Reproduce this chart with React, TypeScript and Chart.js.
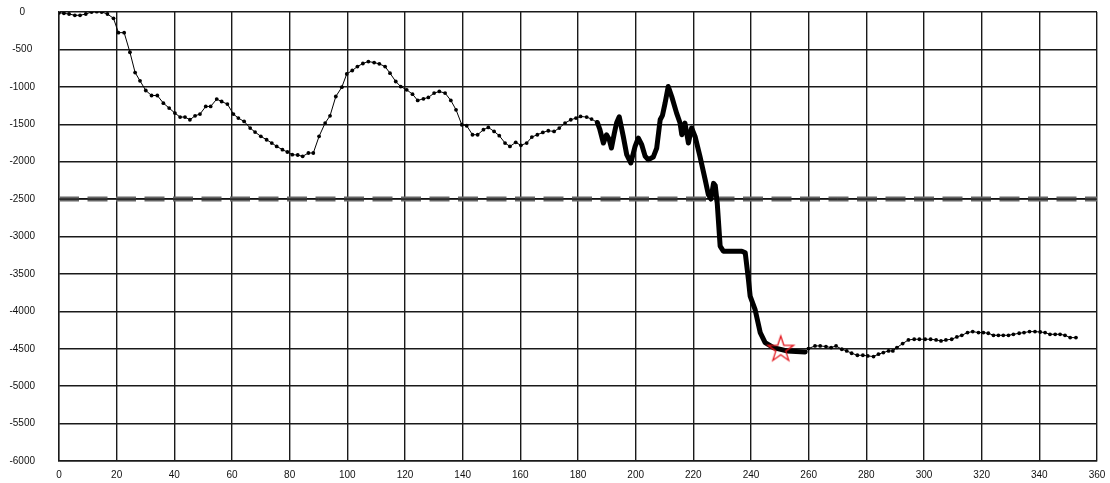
import React, { useEffect, useRef } from "react";
import { Chart, registerables } from "chart.js";

Chart.register(...registerables);

// thin section (left)
const xA = [0, 1.7, 3.5, 5.5, 7.3, 9.3, 11.3, 13.1, 14.8, 16.8, 18.9, 20.6, 22.6, 24.6, 26.4, 28.1, 30.1, 32.1, 34.1, 36.2, 38.2, 40.2, 42.0, 43.7, 45.4, 47.2, 48.9, 50.9, 52.6, 54.7, 56.4, 58.4, 60.5, 62.2, 64.2, 66.3, 68.0, 70.0, 72.0, 73.8, 75.5, 77.5, 79.2, 80.9, 82.8, 84.5, 86.5, 88.2, 90.2, 92.3, 94.0, 96.0, 98.1, 99.8, 101.7, 103.5, 105.4, 107.3, 109.3, 111.1, 113.1, 114.8, 116.8, 118.5, 120.6, 122.6, 124.4, 126.4, 128.1, 130.1, 131.9, 133.9, 135.9, 137.7, 139.7, 141.4, 143.4, 145.2, 147.2, 148.9, 150.9, 152.7, 154.7, 156.4, 158.4, 160.2, 162.2, 164.0, 165.9, 167.8, 169.7, 171.7, 173.5, 175.5, 177.5, 179.3, 180.9, 183.0, 184.7, 186.7];
const yA = [-10, -18, -27, -44, -44, -27, 0, 4, 0, -27, -84, -276, -276, -538, -809, -920, -1049, -1116, -1116, -1218, -1284, -1351, -1404, -1404, -1440, -1387, -1364, -1262, -1262, -1164, -1196, -1231, -1364, -1418, -1462, -1551, -1604, -1662, -1707, -1751, -1796, -1840, -1871, -1907, -1911, -1929, -1884, -1884, -1662, -1484, -1387, -1129, -1004, -827, -782, -729, -688, -662, -676, -693, -729, -818, -929, -996, -1040, -1098, -1182, -1160, -1142, -1084, -1062, -1084, -1182, -1307, -1507, -1520, -1640, -1640, -1573, -1542, -1596, -1653, -1751, -1796, -1742, -1782, -1751, -1671, -1640, -1609, -1587, -1596, -1551, -1484, -1440, -1418, -1396, -1404, -1431, -1476];

// thick dense section (middle)
const xB = [186.7, 187.5, 188.8, 189.9, 190.8, 191.6, 192.6, 193.4, 194.3, 195.7, 196.9, 198.3, 199.8, 200.9, 202.1, 203.3, 204.4, 206.1, 207.3, 208.5, 209.3, 210.2, 211.3, 212.5, 214.2, 215.4, 216.0, 217.1, 218.3, 219.4, 220.6, 222.3, 224.1, 225.2, 226.1, 227.0, 227.6, 228.3, 229.3, 230.4, 236.8, 238.0, 239.1, 239.7, 241.4, 243.2, 244.9, 247.8, 252.4, 258.8];
const yB = [-1476, -1560, -1751, -1640, -1700, -1818, -1620, -1480, -1400, -1662, -1907, -2018, -1796, -1684, -1773, -1929, -1973, -1938, -1818, -1440, -1380, -1218, -996, -1129, -1351, -1484, -1640, -1484, -1751, -1551, -1662, -1929, -2240, -2440, -2500, -2290, -2320, -2560, -3129, -3196, -3196, -3218, -3573, -3796, -3973, -4284, -4418, -4484, -4529, -4542];

// thin section (right)
const xC = [258.8, 259.9, 262.2, 264.0, 266.0, 267.8, 269.5, 271.5, 273.2, 274.9, 276.9, 278.8, 280.5, 282.5, 284.2, 285.9, 287.7, 289.2, 290.6, 292.6, 294.6, 296.6, 298.4, 300.4, 302.3, 304.2, 305.9, 307.6, 309.6, 311.4, 313.1, 315.1, 316.9, 318.9, 320.6, 322.3, 324.1, 325.8, 327.5, 329.3, 331.0, 333.0, 334.7, 336.6, 338.5, 340.3, 342.0, 343.7, 345.5, 347.2, 348.9, 350.7, 352.7];
const yC = [-4542, -4498, -4462, -4462, -4471, -4484, -4462, -4507, -4529, -4560, -4587, -4587, -4596, -4604, -4573, -4551, -4529, -4529, -4484, -4431, -4382, -4373, -4373, -4373, -4373, -4382, -4396, -4382, -4373, -4342, -4320, -4284, -4271, -4284, -4284, -4293, -4320, -4320, -4320, -4320, -4307, -4293, -4284, -4271, -4271, -4276, -4284, -4307, -4307, -4307, -4320, -4351, -4351];

const starX = [250.3];
const starY = [-4510];

const limitX = [0, 360];
const limitY = [-2500, -2500];

const xTicks = [0, 20, 40, 60, 80, 100, 120, 140, 160, 180, 200, 220, 240, 260, 280, 300, 320, 340, 360];
const yTicks = [0, -500, -1000, -1500, -2000, -2500, -3000, -3500, -4000, -4500, -5000, -5500, -6000];

const pts = (xs: number[], ys: number[]) => xs.map((x, i) => ({ x, y: ys[i] }));

function makeStar(): HTMLCanvasElement {
  const c = document.createElement("canvas");
  c.width = 32;
  c.height = 32;
  const ctx = c.getContext("2d")!;
  ctx.strokeStyle = "#e3141c";
  ctx.lineWidth = 1.3;
  ctx.beginPath();
  for (let i = 0; i < 10; i++) {
    const a = -Math.PI / 2 + (i * Math.PI) / 5;
    const r = i % 2 === 0 ? 13.5 : 5.2;
    const px = 16 + r * Math.cos(a);
    const py = 16 + r * Math.sin(a);
    if (i === 0) ctx.moveTo(px, py);
    else ctx.lineTo(px, py);
  }
  ctx.closePath();
  ctx.stroke();
  return c;
}

export default function App() {
  const ref = useRef<HTMLCanvasElement | null>(null);
  useEffect(() => {
    if (!ref.current) return;
    const star = makeStar();
    const chart = new Chart(ref.current, {
      type: "line",
      data: {
        datasets: [
          {
            data: pts(starX, starY),
            showLine: false,
            pointStyle: star as any,
            pointRadius: 14,
            order: 0,
          },
          {
            data: pts(xA, yA),
            borderColor: "#000",
            borderWidth: 1,
            pointRadius: 1.9,
            pointBackgroundColor: "#000",
            pointBorderWidth: 0,
            order: 2,
          },
          {
            data: pts(xB, yB),
            borderColor: "#000",
            borderWidth: 5,
            borderJoinStyle: "round",
            borderCapStyle: "round",
            pointRadius: 0,
            order: 1,
          },
          {
            data: pts(xC, yC),
            borderColor: "#000",
            borderWidth: 1,
            pointRadius: 1.9,
            pointBackgroundColor: "#000",
            pointBorderWidth: 0,
            order: 2,
          },
          {
            data: pts(limitX, limitY),
            borderColor: "#000",
            borderWidth: 1,
            pointRadius: 0,
            order: 3,
          },
          {
            data: pts(limitX, limitY),
            borderColor: "#666",
            borderWidth: 5,
            borderDash: [20, 8.5],
            borderCapStyle: "butt",
            pointRadius: 0,
            order: 4,
          },
        ],
      },
      options: {
        animation: false,
        responsive: false,
        devicePixelRatio: 1,
        layout: { autoPadding: false, padding: { top: 12, right: 13, bottom: 0, left: 0 } },
        plugins: { legend: { display: false }, tooltip: { enabled: false } },
        scales: {
          x: {
            type: "linear",
            min: 0,
            max: 360,
            afterBuildTicks: (s: any) => {
              s.ticks = xTicks.map((v) => ({ value: v }));
            },
            afterFit: (s: any) => {
              s.height = 22;
              s.paddingLeft = 4;
              s.paddingRight = 8;
            },
            ticks: {
              padding: 8,
              color: "#111",
              font: { family: "Liberation Sans", size: 10 },
              maxRotation: 0,
              autoSkip: false,
              callback: (v: any) => String(v),
            },
            grid: { color: "#1a1a1a", lineWidth: 1.4, drawTicks: false },
            border: { color: "#1a1a1a", width: 1.4 },
          },
          y: {
            type: "linear",
            min: -6000,
            max: 0,
            afterBuildTicks: (s: any) => {
              s.ticks = yTicks.map((v) => ({ value: v }));
            },
            afterFit: (s: any) => {
              s.width = 59;
              s.paddingTop = 6;
              s.paddingBottom = 6;
            },
            ticks: {
              padding: 24,
              crossAlign: "center",
              color: "#111",
              font: { family: "Liberation Sans", size: 10 },
              autoSkip: false,
              callback: (v: any) => String(v),
            },
            grid: { color: "#1a1a1a", lineWidth: 1.4, drawTicks: false },
            border: { color: "#1a1a1a", width: 1.4 },
          },
        },
      },
    } as any);
    return () => chart.destroy();
  }, []);
  return (
    <div style={{ position: "absolute", left: 0, top: 0, width: 1110, height: 483, background: "#fff" }}>
      <canvas ref={ref} width={1110} height={483} style={{ display: "block" }} />
    </div>
  );
}
